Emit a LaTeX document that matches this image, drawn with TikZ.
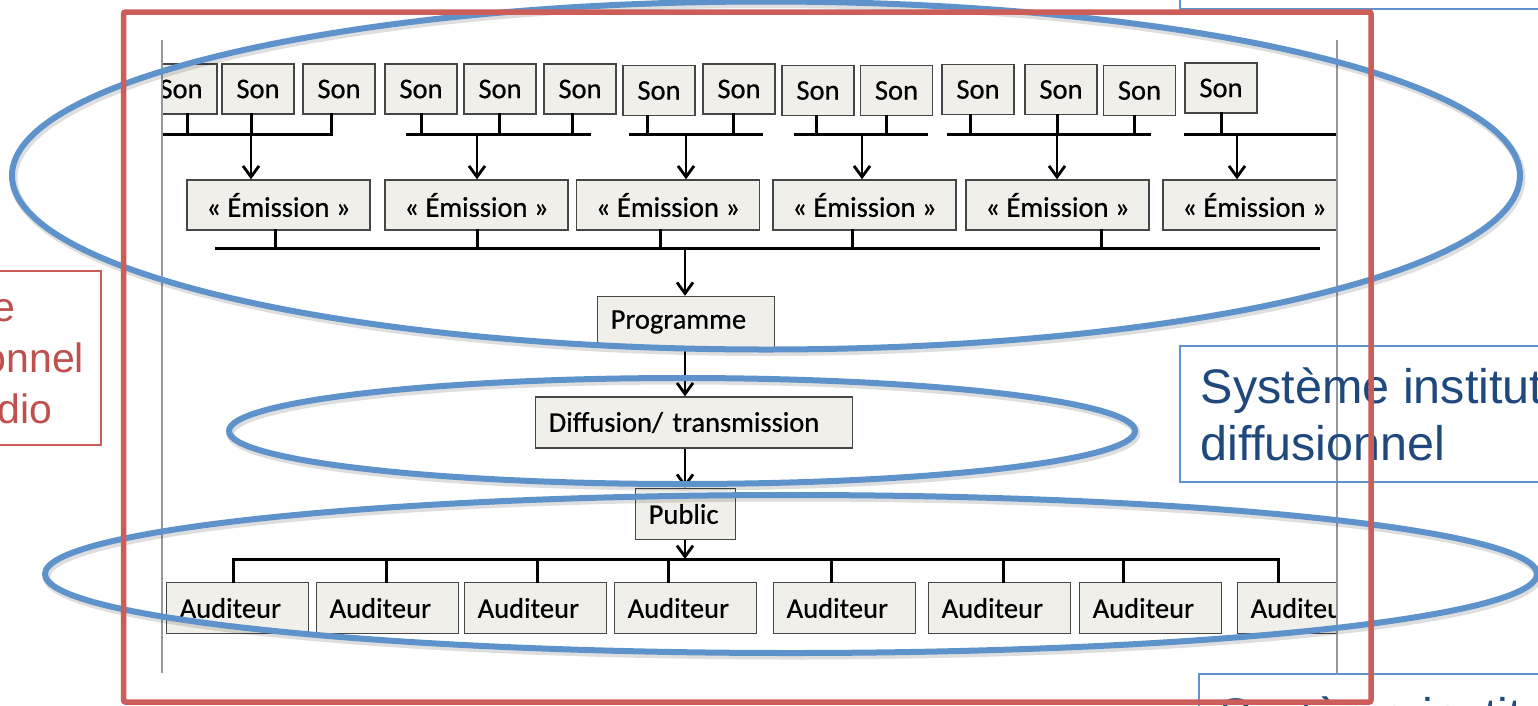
\documentclass[tikz,border=0pt]{standalone}
\usepackage{fontspec}
\newfontfamily\figfont[FakeBold=0.6]{Carlito}
\newfontfamily\slidefont{Liberation Sans}
\usetikzlibrary{arrows.meta}
\definecolor{boxfill}{RGB}{241,239,233}
\definecolor{boxline}{RGB}{70,70,70}
\definecolor{ellblue}{RGB}{93,146,203}
\definecolor{frameblue}{RGB}{96,146,204}
\definecolor{textblue}{RGB}{31,73,125}
\definecolor{framered}{RGB}{205,93,88}
\definecolor{textred}{RGB}{192,80,77}
\definecolor{imgedge}{RGB}{150,152,160}
\tikzset{
  fbox/.style={draw=boxline, line width=1.4pt, fill=boxfill, inner sep=0pt,
    font=\figfont\fontsize{28.5}{34}\selectfont},
  sonbox/.style={fbox, minimum width=72pt, minimum height=50pt},
  emibox/.style={fbox, minimum width=183pt, minimum height=50pt},
  leftbox/.style={fbox, align=left, anchor=west, inner xsep=13pt, minimum height=51pt},
  wire/.style={line width=3pt, line cap=rect},
  arr/.style={line width=2.8pt, -{Straight Barb[length=11pt,width=16pt]}},
  ell/.style={draw=ellblue, line width=6pt},
  ellshadow/.style={draw=black, opacity=0.13, line width=8pt},
  slidebox/.style={draw=frameblue, line width=1.8pt, inner xsep=21pt, inner ysep=0pt,
    align=left, text=textblue, font=\slidefont\fontsize{48.5}{57}\selectfont},
  redbox/.style={draw=framered, line width=1.6pt, inner xsep=16pt, inner ysep=0pt,
    align=left, text=textred, font=\slidefont\fontsize{41}{51}\selectfont},
}
\begin{document}
\begin{tikzpicture}[x=1pt,y=-1pt]
\clip (0,0) rectangle (1538,705);
\fill[white] (0,0) rectangle (1538,705);

% ---------- the inner figure ----------
\begin{scope}
\clip (162,40) rectangle (1337,673);
% Son boxes
\foreach \n/\x/\y in {1/181/89, 2/258/89, 3/339/89, 4/421/89, 5/500/89, 6/580/89,
  7/659/90.5, 8/739/89, 9/818/90.5, 10/896.5/90.5, 11/978/89.5, 12/1061/89.5,
  13/1139.5/90.5, 14/1221/88}
  \node[sonbox] (s\n) at (\x,\y) {Son};
% Emission boxes
\foreach \n/\x in {1/278.5, 2/476.5, 3/668, 4/864.5, 5/1057.5, 6/1254.5}
  \node[emibox] (e\n) at (\x,205) {« Émission »};
\node[leftbox, text width=151pt] (prog) at (597,322) {Programme};
\node[leftbox, text width=291pt] (diff) at (535,422.5) {Diffusion/ transmission};
\node[leftbox, text width=74pt] (pub) at (635,514) {Public};
\foreach \n/\x in {1/166, 2/316, 3/464, 4/614, 5/773, 6/928, 7/1079, 8/1237}
  \node[leftbox, text width=116pt] (a\n) at (\x,608) {Auditeur};

% group buses under the Son boxes
\foreach \n/\l/\r in {1/150/331, 2/407/589, 3/630/761, 4/795/926, 5/948/1149, 6/1185/1350}{
  \coordinate (g\n l) at (\l,134);
  \coordinate (g\n r) at (\r,134);
  \draw[wire] (g\n l) -- (g\n r);
}
\foreach \n/\x in {1/187, 2/251, 3/331, 4/421, 5/499, 6/572, 7/647, 8/733, 9/816,
  10/886, 11/970, 12/1057, 13/1134, 14/1221}{
  \coordinate (t\n) at (\x,134);
  \draw[wire] (s\n.south -| t\n) -- (t\n);
}
\foreach \n/\x in {1/251, 2/477, 3/686, 4/862, 5/1057, 6/1237}{
  \coordinate (ga\n) at (\x,134);
  \draw[arr] (ga\n) -- (ga\n |- e\n.north);
}
% bus under the Emission boxes
\coordinate (ebl) at (216,248);
\coordinate (ebr) at (1318,248);
\draw[wire] (ebl) -- (ebr);
\foreach \n/\x in {1/275, 2/477, 3/660, 4/852, 5/1101}{
  \coordinate (u\n) at (\x,248);
  \draw[wire] (e\n.south -| u\n) -- (u\n);
}
% main chain
\coordinate (m) at (685,248);
\draw[arr] (m) -- (m |- prog.north);
\draw[arr] (prog.south -| m) -- (m |- diff.north);
\draw[arr] (diff.south -| m) -- (m |- pub.north);
\coordinate (abus) at (685,559);
\draw[arr] (pub.south -| m) -- (abus);
% bus over the Auditeur boxes
\coordinate (abl) at (233,559);
\coordinate (abr) at (1278,559);
\draw[wire] (abl) -- (abr);
\foreach \n/\x in {1/233, 2/386, 3/537, 4/668, 5/831, 6/1003, 7/1123, 8/1278}{
  \coordinate (v\n) at (\x,559);
  \draw[wire] (v\n) -- (v\n |- a\n.north);
}
\end{scope}
% edges of the inner picture
\draw[imgedge, line width=1.3pt] (162,40) -- (162,673);
\draw[imgedge, line width=1.3pt] (1337,40) -- (1337,673);

% ---------- slide boxes ----------
\node[redbox, anchor=east, text width=229pt, minimum height=174pt] (lbox) at (102,358)
  {Système\\institutionnel\\de la radio};
\node[slidebox, anchor=west, minimum height=136pt] (rbox) at (1179,414)
  {Système institutionnel\\diffusionnel};
\node[slidebox, anchor=north west, inner ysep=23pt] (brbox) at (1198,673)
  {Système institutionnel};
\node[draw=frameblue, line width=1.8pt, anchor=south west, minimum width=420pt,
  minimum height=80pt] (trbox) at (1179,10) {};

% ---------- ellipses ----------
\draw[ellshadow] (767.5,178) ellipse [x radius=754, y radius=174];
\draw[ellshadow] (683.5,433.5) ellipse [x radius=453, y radius=53];
\draw[ellshadow] (792.5,576.5) ellipse [x radius=746, y radius=79];
\draw[ell] (766,175.5) ellipse [x radius=754, y radius=174];
\draw[ell] (682,431) ellipse [x radius=453, y radius=53];
\draw[ell] (791,574) ellipse [x radius=746, y radius=79];

% ---------- red frame ----------
\draw[draw=framered, line width=5.5pt, rounded corners=2pt] (123.5,12) rectangle (1371,702);
\end{tikzpicture}
\end{document}
